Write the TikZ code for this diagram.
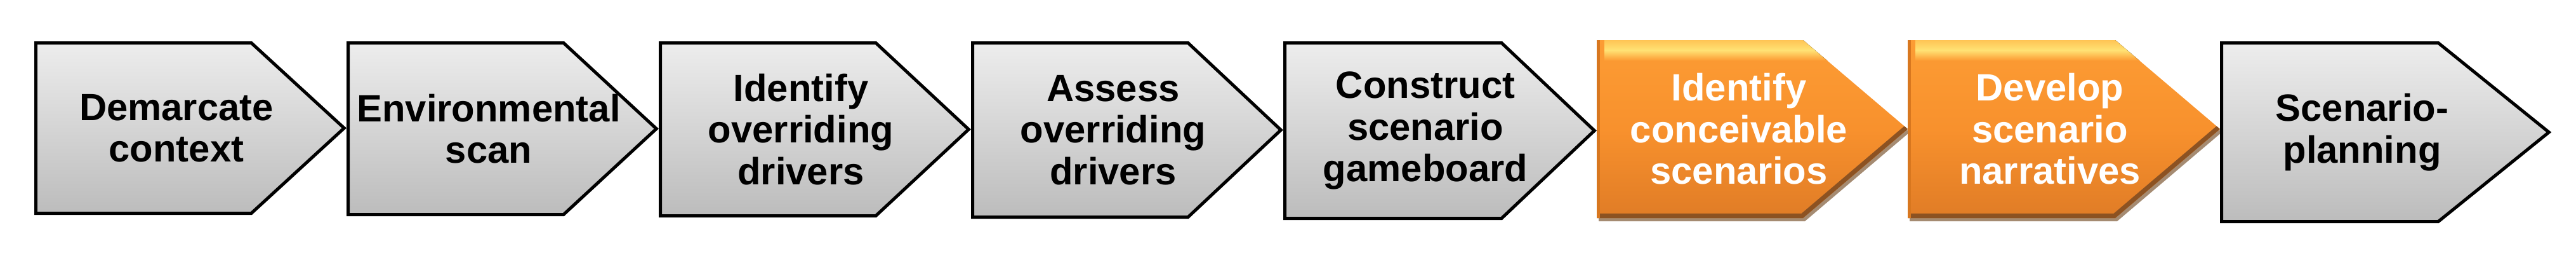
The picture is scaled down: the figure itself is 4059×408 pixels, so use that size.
\documentclass[tikz,border=0pt]{standalone}
\usepackage{fontspec}
\setmainfont{Liberation Sans}
\definecolor{gtop}{HTML}{EDEDED}
\definecolor{gbot}{HTML}{BCBCBC}
\definecolor{otop}{HTML}{FC9C34}
\definecolor{omid}{HTML}{F8912D}
\definecolor{obot}{HTML}{E07C26}
\definecolor{oband}{HTML}{8C5222}
\definecolor{oshadow}{HTML}{A58B72}
\definecolor{ohigh}{HTML}{FFE274}
\definecolor{ohighb}{HTML}{FFC454}
\definecolor{oleft}{HTML}{D8771F}
\tikzset{
  lbl/.style={align=center, font=\bfseries\fontsize{17}{18.6}\selectfont, inner sep=0pt},
  graybox/.style={draw=black, line width=1.42pt, line join=miter, top color=gtop, bottom color=gbot},
}
% name, left, bottom, tip, depth, text
\newcommand\garrow[6]{%
  \path[graybox] (#2+2.5,67.5) -- (#4-#5,67.5) -- (#4-3.7,{(65+#3)/2}) -- (#4-#5,#3-2.5) -- (#2+2.5,#3-2.5) -- cycle;
  \node[lbl] (#1) at (#2+224,{(65+#3)/2}) {#6};
}
\newcommand\oarrow[6]{%
  \fill[oshadow] (#2+3,68) -- (#4-#5+3,68) -- (#4+3,{(63+#3)/2+5}) -- (#4-#5+3,#3+5) -- (#2+3,#3+5) -- cycle;
  \path[top color=otop, bottom color=obot, middle color=omid] (#2,63) -- (#4-#5,63) -- (#4,{(63+#3)/2}) -- (#4-#5,#3) -- (#2,#3) -- cycle;
  \begin{scope}
    \clip (#2,63) -- (#4-#5,63) -- (#4,{(63+#3)/2}) -- (#4-#5,#3) -- (#2,#3) -- cycle;
    \fill[top color=ohighb, bottom color=otop, middle color=ohigh] (#2+12,63) rectangle (#4,95);
    \draw[oband, line width=4pt] (#2,#3) -- (#4-#5,#3) -- (#4,{(63+#3)/2});
    \draw[oleft, line width=3pt] (#2,63) -- (#2,#3);
  \end{scope}
  \node[lbl, text=white] (#1) at (#2+224,{(63+#3)/2}) {#6};
}
\begin{document}
\begin{tikzpicture}[x=0.01cm,y=-0.01cm]
\useasboundingbox (0,0) rectangle (4059,408);
\garrow{s1}{54}{338}{546}{150}{Demarcate\\context}
\garrow{s2}{546}{340}{1038}{150}{Environmental\\scan}
\garrow{s3}{1038}{342}{1530}{150}{Identify\\overriding\\drivers}
\garrow{s4}{1530}{344}{2022}{150}{Assess\\overriding\\drivers}
\garrow{s5}{2022}{346}{2516}{150}{Construct\\scenario\\gameboard}
\oarrow{s6}{2516}{343}{3006}{165}{Identify\\conceivable\\scenarios}
\oarrow{s7}{3006}{343}{3498}{165}{Develop\\scenario\\narratives}
\garrow{s8}{3498}{351}{4020}{178}{Scenario-\\planning}
\end{tikzpicture}
\end{document}
